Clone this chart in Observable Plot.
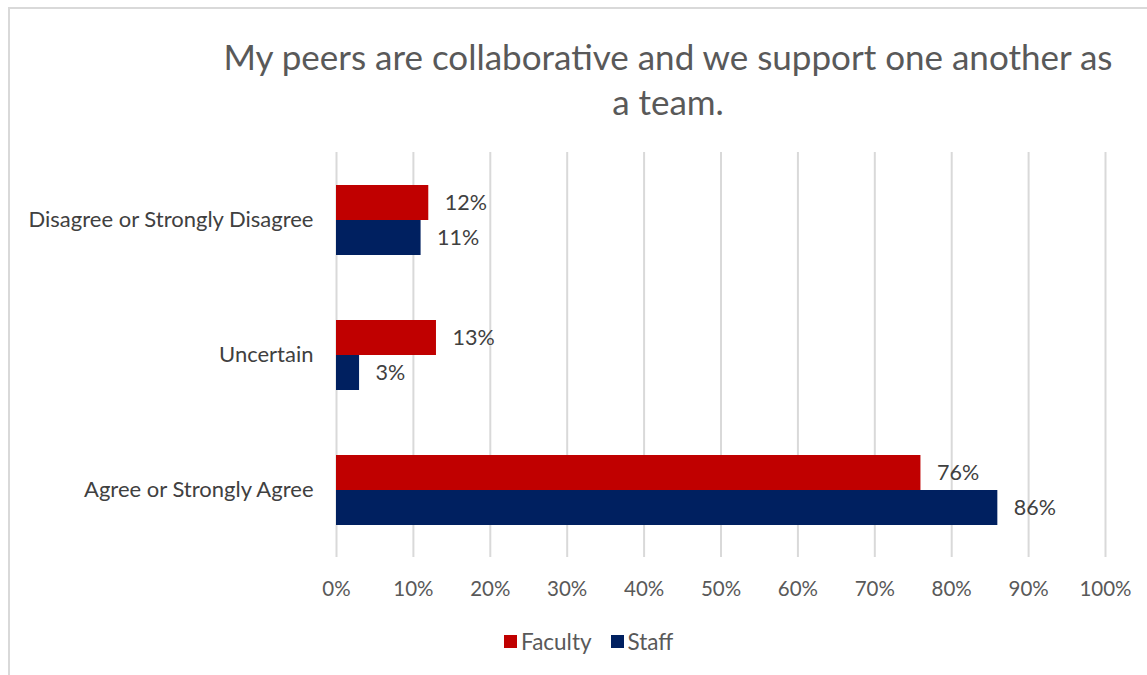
<!DOCTYPE html>
<html>
<head>
<meta charset="utf-8">
<script src="https://cdn.jsdelivr.net/npm/d3@7"></script>
<script src="https://cdn.jsdelivr.net/npm/@observablehq/plot@0.6"></script>
<style>
  html, body { margin: 0; padding: 0; background: #fff; }
  #wrap { position: relative; width: 1147px; height: 675px; overflow: hidden; font-family: Lato, "Open Sans", sans-serif; }
  #frame { position: absolute; left: 8px; top: 7px; width: 1200px; height: 720px; border: 2px solid #d9d9d9; box-sizing: border-box; }
  #title { position: absolute; left: 150px; width: 1036px; top: 34px; text-align: center; font-size: 35px; line-height: 45px; color: #595959; }
  #chart { position: absolute; left: 0; top: 141px; }
  #legend { position: absolute; top: 628px; left: 504px; display: flex; justify-content: flex-start; font-size: 22.5px; color: #595959; align-items: center; }
  .sw { display: inline-block; width: 13px; height: 13px; margin-right: 4px; }
  .item { display: flex; align-items: center; margin-right: 19px; }
</style>
</head>
<body>
<div id="wrap">
  <div id="frame"></div>
  <div id="title">My peers are collaborative and we support one another as<br>a team.</div>
  <div id="chart"></div>
  <div id="legend"></div>
</div>
<script>
const categories = ["Disagree or Strongly Disagree", "Uncertain", "Agree or Strongly Agree"];
const seriesNames = ["Faculty", "Staff"];
const seriesColors = ["#C00000", "#002060"];
const facultyValues = [12, 13, 76];
const staffValues = [11, 3, 86];
const xTicks = [0, 10, 20, 30, 40, 50, 60, 70, 80, 90, 100];

const data = [];
categories.forEach((c, i) => {
  data.push({category: c, series: "Faculty", value: facultyValues[i]});
  data.push({category: c, series: "Staff", value: staffValues[i]});
});

const chart = Plot.plot({
  width: 1147,
  height: 470,
  marginLeft: 336,
  marginRight: 42,
  marginTop: 11,
  marginBottom: 54,
  style: {fontFamily: "Lato, 'Open Sans', sans-serif", background: "transparent"},
  x: {domain: [0, 100], ticks: xTicks, tickFormat: d => d + "%", tickSize: 0, tickPadding: 24, label: null},
  fy: {domain: categories, padding: 0, label: null},
  y: {domain: seriesNames, paddingInner: 0, paddingOuter: 0.9, axis: null},
  color: {domain: seriesNames, range: seriesColors},
  marks: [
    Plot.gridX(xTicks, {stroke: "#d9d9d9", strokeOpacity: 1, strokeWidth: 2}),
    Plot.axisX({ticks: xTicks, tickFormat: d => d + "%", tickSize: 0, tickPadding: 24, fontSize: 20.5, fill: "#595959", label: null}),
    Plot.axisFy({anchor: "left", tickSize: 0, tickPadding: 23, fontSize: 22, fill: "#404040", label: null}),
    Plot.barX(data, {x: "value", y: "series", fy: "category", fill: "series"}),
    Plot.text(data, {x: "value", y: "series", fy: "category", text: d => d.value + "%", textAnchor: "start", dx: 16, fontSize: 21.5, fill: "#404040"})
  ]
});
document.getElementById("chart").appendChild(chart);

const legend = document.getElementById("legend");
seriesNames.forEach((s, i) => {
  const item = document.createElement("span");
  item.className = "item";
  item.innerHTML = `<span class="sw" style="background:${seriesColors[i]}"></span>${s}`;
  legend.appendChild(item);
});
</script>
</body>
</html>
